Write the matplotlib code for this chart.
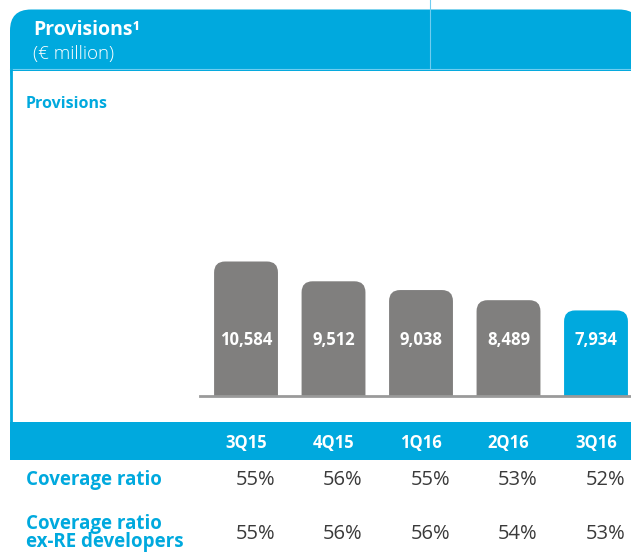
import numpy as np
import matplotlib.pyplot as plt
from matplotlib.patches import FancyBboxPatch, Rectangle
from matplotlib.transforms import blended_transform_factory

plt.rcParams['font.family'] = ['Open Sans', 'DejaVu Sans']

# data
quarters = ['3Q15', '4Q15', '1Q16', '2Q16', '3Q16']
provisions = [10584, 9512, 9038, 8489, 7934]
coverage = [55, 56, 55, 53, 52]
coverage_ex_re = [55, 56, 56, 54, 53]

blue = '#00a9de'
grey = '#807f7e'
dark = '#3a3a3a'

W, H = 631, 560
fig = plt.figure(figsize=(W/100, H/100), dpi=100)

# background layer in pixel coords (y down)
bg = fig.add_axes([0, 0, 1, 1])
bg.set_xlim(0, W)
bg.set_ylim(H, 0)
bg.axis('off')

# header
bg.add_patch(FancyBboxPatch((10, 9.5), 630, 80, boxstyle="round,pad=0,rounding_size=21",
                            fc=blue, ec='none'))
bg.add_patch(Rectangle((12, 71), W, 351, fc='white', ec='none'))
bg.plot([10, W], [68.5, 68.5], color='#6fcdf0', lw=0.8)
bg.plot([430, 430], [0, 68], color='#6fcdf0', lw=0.8)
bg.plot([11, 11], [70, 422], color=blue, lw=2)
bg.text(33, 35, 'Provisions\u00b9', color='white', fontsize=14, fontweight='bold')
bg.text(33, 59, '(\u20ac million)', color='white', fontsize=13.5, fontweight='light')
bg.text(26, 108, 'Provisions', color=blue, fontsize=11.5, fontweight='bold')

# category band
bg.add_patch(Rectangle((10, 422), W, 38, fc=blue, ec='none'))

# bar chart
ax = fig.add_axes([200/W, (H-396)/H, 431/W, 296/H])
ax.axis('off')
x = np.arange(len(quarters))
ax.set_xlim(-0.526, 4.4)
ax.set_ylim(3300, 19330)

bw = 0.73
xpp = (4.4 + 0.526) / 431
ypp = (19330 - 3300) / 296
for i, v in enumerate(provisions):
    c = blue if i == len(provisions) - 1 else grey
    ax.add_patch(FancyBboxPatch((x[i] - bw/2, 0), bw, v,
                                boxstyle="round,pad=0,rounding_size=%f" % (11*xpp),
                                mutation_aspect=ypp/xpp, fc=c, ec='none'))
ax.axhline(3300, color='#9a9a9a', lw=2, clip_on=False)

tr = blended_transform_factory(ax.transData, bg.transData)
for i, v in enumerate(provisions):
    ax.text(x[i], 340, f'{v:,}', transform=tr, ha='center', va='center',
            color='white', fontsize=12, fontweight='bold')
for i, q in enumerate(quarters):
    ax.text(x[i], 443, q, transform=tr, ha='center', va='center',
            color='white', fontsize=12, fontweight='bold')

# coverage table
bg.text(26, 480, 'Coverage ratio', color=blue, fontsize=13.5, fontweight='bold', va='center')
bg.text(26, 533, 'Coverage ratio\nex-RE developers', color=blue, fontsize=13.5,
        fontweight='bold', va='center', linespacing=0.8)
for i in range(len(quarters)):
    ax.text(x[i] + bw/2 - 0.03, 480, f'{coverage[i]}%', transform=tr, ha='right',
            va='center', color=dark, fontsize=14.5)
    ax.text(x[i] + bw/2 - 0.03, 534, f'{coverage_ex_re[i]}%', transform=tr, ha='right',
            va='center', color=dark, fontsize=14.5)

fig.savefig('out.png', dpi=100)
